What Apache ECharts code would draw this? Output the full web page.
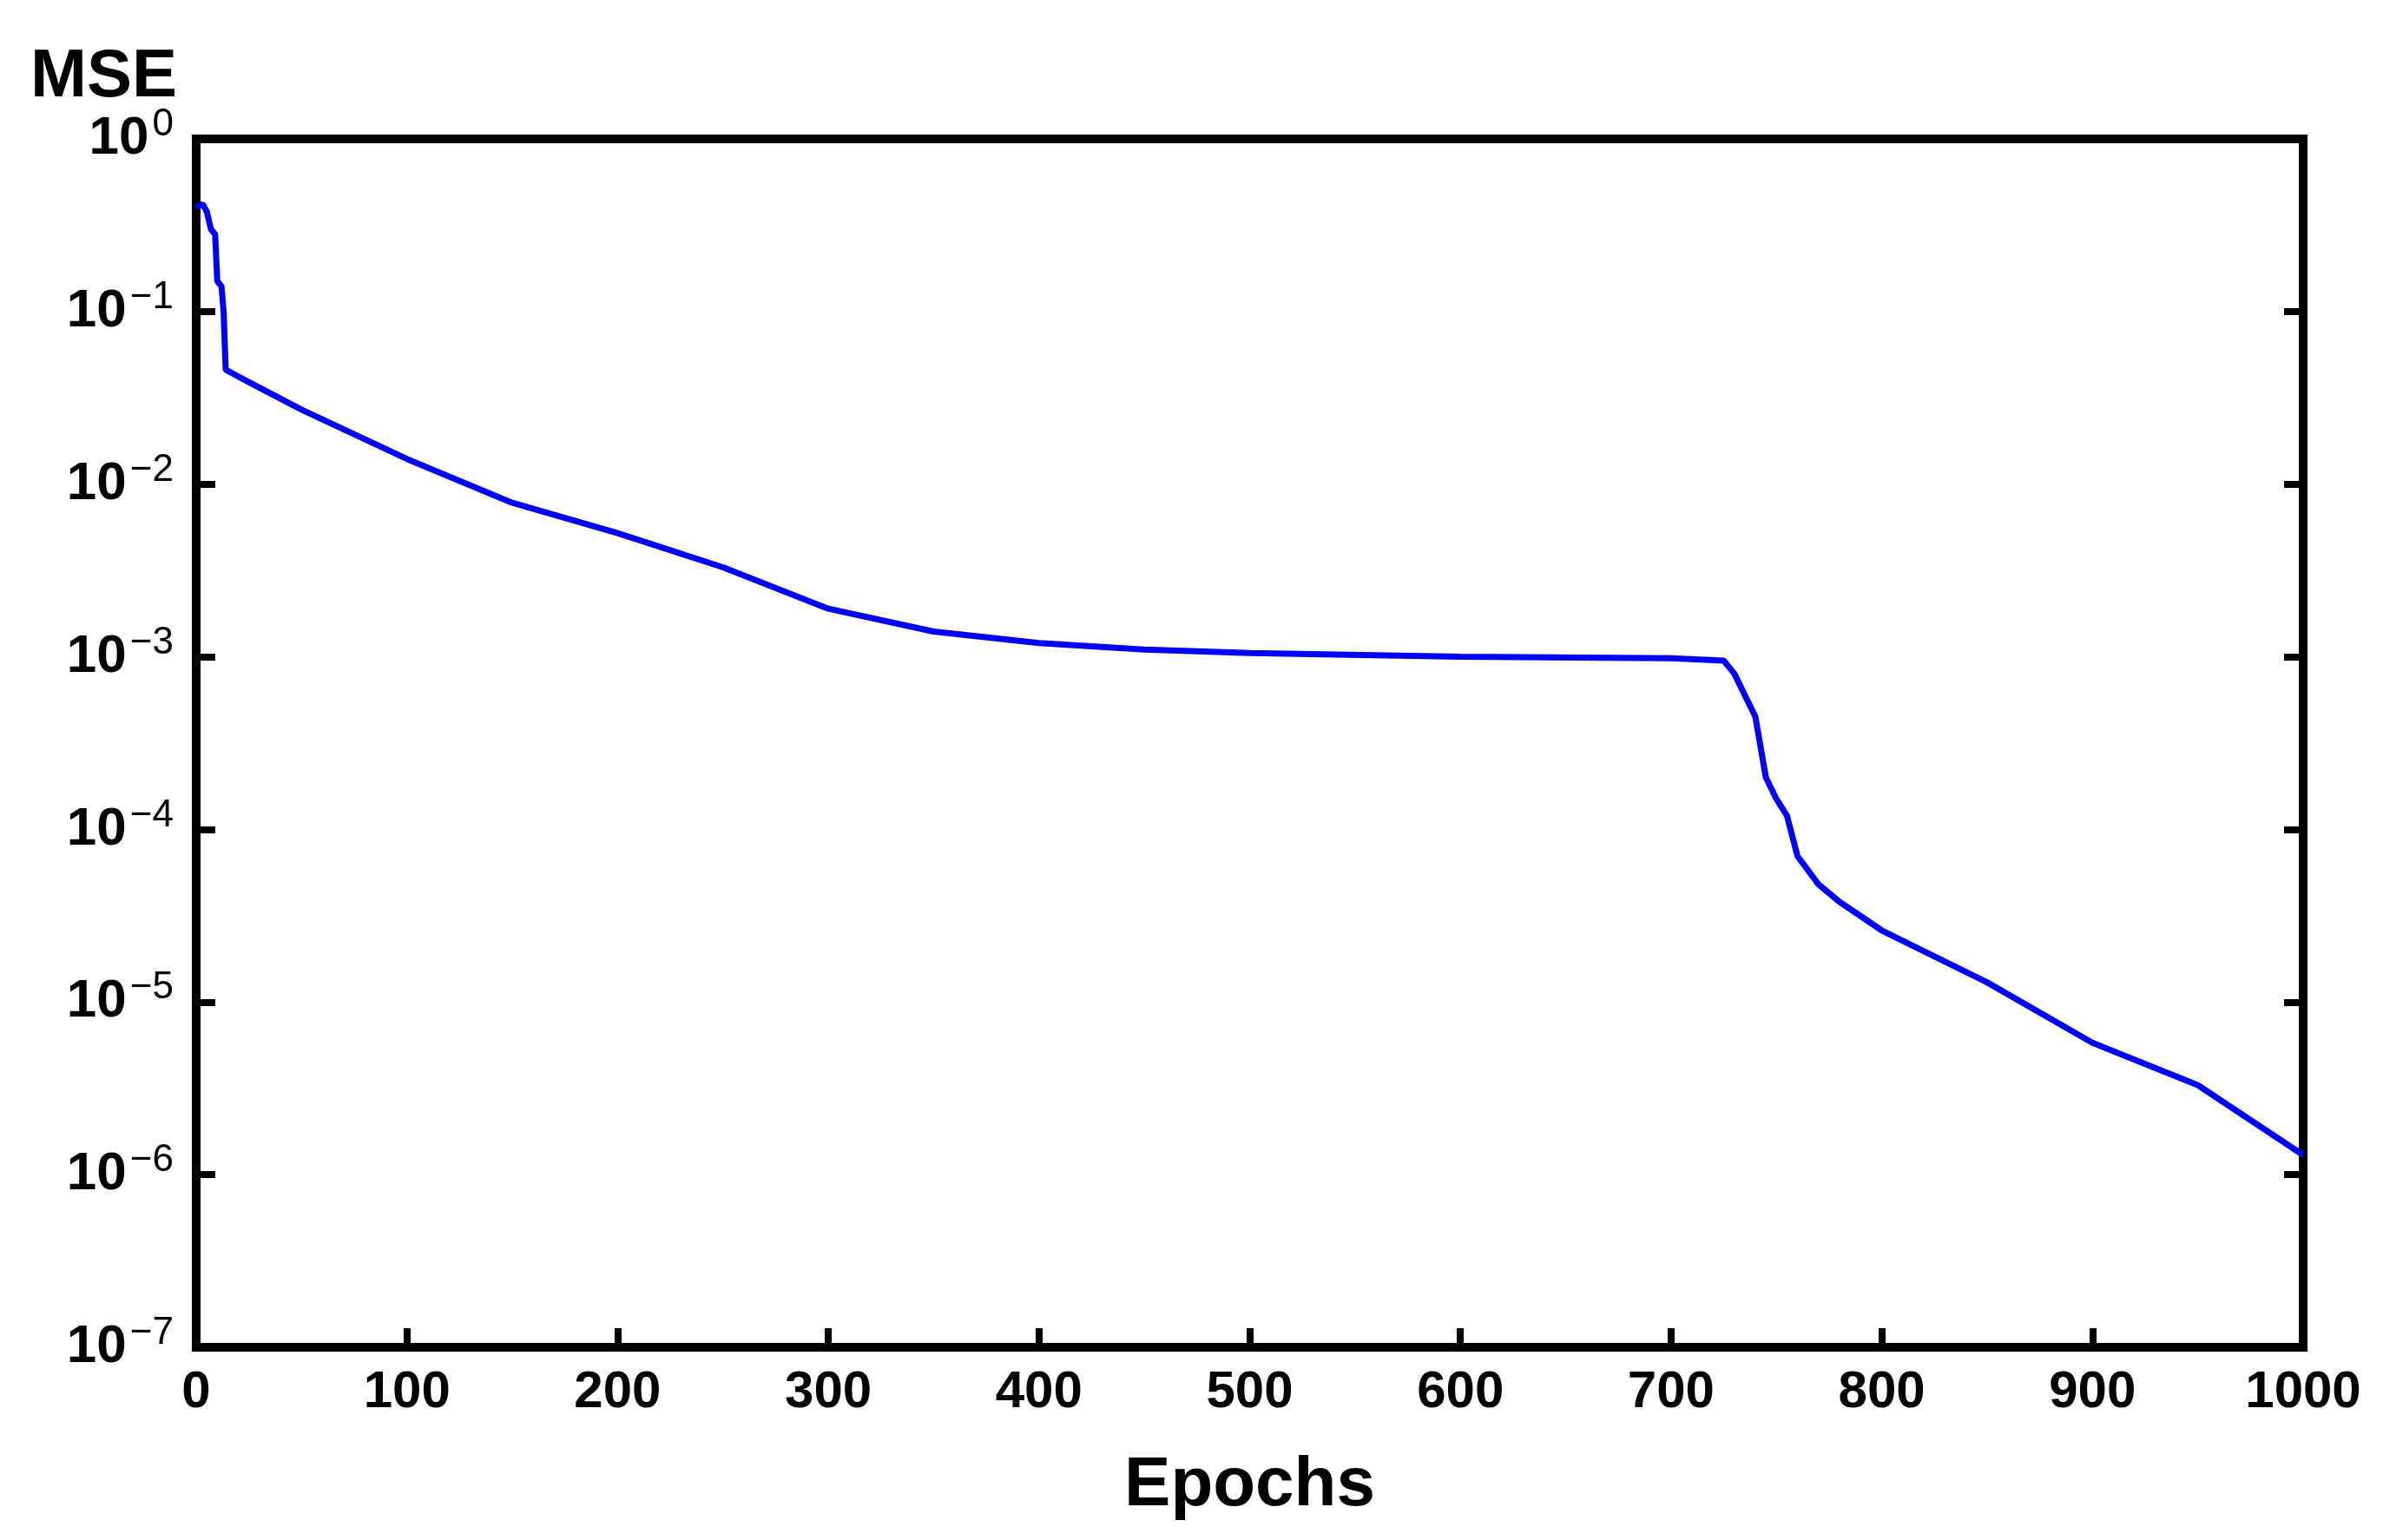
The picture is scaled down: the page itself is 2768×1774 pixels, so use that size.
<!DOCTYPE html>
<html>
<head>
<meta charset="utf-8">
<script src="https://cdn.jsdelivr.net/npm/echarts@6/dist/echarts.min.js"></script>
<style>html,body{margin:0;padding:0;background:#fff}#chart{width:2768px;height:1774px}</style>
</head>
<body>
<div id="chart"></div>
<script>
// MSE vs epochs
var epochs = [0, 3, 5, 7, 9, 10, 12, 13, 14, 20, 50, 100, 150, 200, 250, 300, 350, 400, 450, 500, 600, 700, 725, 730, 735, 740, 745, 750, 755, 760, 770, 780, 800, 850, 900, 950, 1000];
var mse = [0.4, 0.42, 0.38, 0.3, 0.28, 0.15, 0.14, 0.1, 0.046, 0.042, 0.027, 0.014, 0.0078, 0.0052, 0.0033, 0.0019, 0.0014, 0.0012, 0.0011, 0.00105, 0.001, 0.00098, 0.00095, 0.0008, 0.0006, 0.00045, 0.0002, 0.00015, 0.00012, 0.00007, 0.000048, 0.000038, 0.000026, 0.000013, 0.0000058, 0.0000033, 0.0000013];

var points = [];
for (var i = 0; i < epochs.length; i++) {
    points.push([epochs[i], mse[i]]);
}

var supLabel = function (v) {
    var e = Math.round(Math.log10(v));
    return '{b|10}{s|' + (e === 0 ? '0' : '\u2212' + (-e)) + '}';
};
var labelRich = {
    b: {fontSize: 62, fontWeight: 'bold', color: '#000', fontFamily: 'Liberation Sans'},
    s: {fontSize: 44, color: '#000', fontFamily: 'Liberation Sans', verticalAlign: 'top', padding: [0, 0, 32, 4]}
};

var myChart = echarts.init(document.getElementById('chart'));
var option = {
    backgroundColor: '#fff',
    animation: false,
    title: {
        text: 'MSE', left: 30, top: 45,
        textStyle: {fontSize: 78, fontWeight: 'bold', color: '#000', fontFamily: 'Liberation Sans'}
    },
    grid: {left: 226, right: 115, top: 160, bottom: 222, show: true, borderColor: '#000', borderWidth: 10, backgroundColor: 'transparent'},
    xAxis: {
        type: 'value', min: 0, max: 1000, interval: 100,
        name: 'Epochs', nameLocation: 'middle', nameGap: 120,
        nameTextStyle: {fontSize: 80, fontWeight: 'bold', color: '#000', fontFamily: 'Liberation Sans'},
        axisLine: {show: false},
        axisTick: {inside: true, length: 22, lineStyle: {color: '#000', width: 8}},
        splitLine: {show: false},
        axisLabel: {fontSize: 60, fontWeight: 'bold', color: '#000', margin: 22, fontFamily: 'Liberation Sans',
            formatter: function (v) { return String(v); }}
    },
    yAxis: [{
        type: 'log', min: 1e-7, max: 1, logBase: 10,
        axisLine: {show: false},
        axisTick: {inside: true, length: 22, lineStyle: {color: '#000', width: 8}},
        splitLine: {show: false},
        axisLabel: {formatter: supLabel, rich: labelRich, margin: 26}
    }, {
        type: 'log', min: 1e-7, max: 1, logBase: 10, position: 'right',
        axisLine: {show: false},
        axisTick: {inside: true, length: 22, lineStyle: {color: '#000', width: 8}},
        splitLine: {show: false},
        axisLabel: {show: false}
    }],
    series: [{
        type: 'line',
        data: points,
        showSymbol: false,
        lineStyle: {color: '#0000ff', width: 7},
        z: 1
    }]
};
myChart.setOption(option);
</script>
</body>
</html>
